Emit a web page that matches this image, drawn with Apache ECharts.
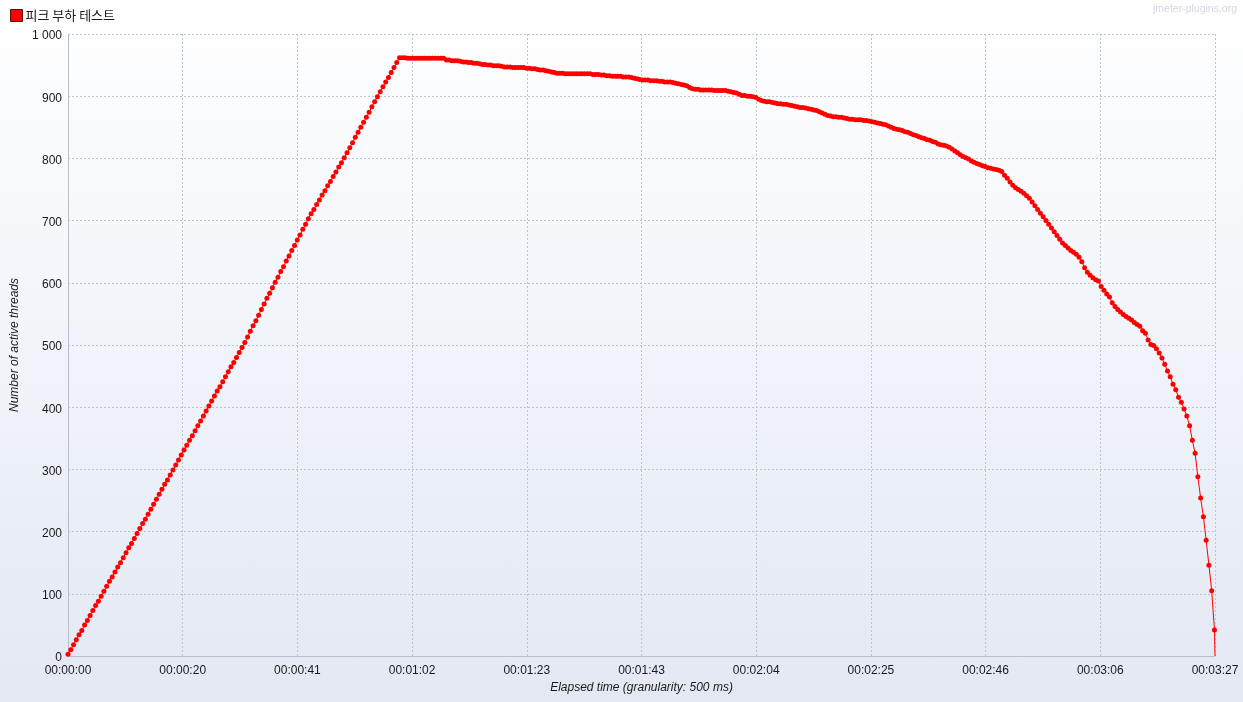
<!DOCTYPE html>
<html>
<head>
<meta charset="utf-8">
<script src="https://cdn.jsdelivr.net/npm/echarts@6/dist/echarts.min.js"></script>
<style>
  html, body { margin: 0; padding: 0; width: 1243px; height: 702px; overflow: hidden; }
  body { background: linear-gradient(to bottom, #ffffff 0%, #f3f6fb 40%, #e3e8f3 100%); }
  #chart { width: 1243px; height: 702px; }
</style>
</head>
<body>
<div id="chart"></div>
<script>
// ---- Data ----
const seriesName = '피크 부하 테스트';
const granularityMs = 500;          // sample spacing
const lastSampleMs = 207600;        // final (end-of-test) sample time
const axisMaxMs = 207600;
const axisStepMs = 20760;
const yTicks = { min: 0, max: 1000, step: 100 };

// active threads, one value per 500 ms sample (last value = end of test)
const activeThreads = [
  3,10,18,26,34,41,50,57,65,73,
  81,88,96,104,112,120,127,135,143,150,
  158,166,174,181,189,197,205,213,220,228,
  236,244,252,260,268,276,283,291,299,307,
  315,323,331,339,347,354,362,370,378,386,
  394,402,410,418,426,433,441,449,457,465,
  472,480,488,496,504,513,522,531,539,548,
  557,566,575,583,592,601,609,618,626,635,
  643,652,660,669,677,686,694,703,711,718,
  726,733,741,748,756,763,771,778,786,793,
  801,809,817,825,834,842,850,858,866,874,
  883,891,899,907,915,923,930,938,946,954,
  962,962,962,961,961,961,961,961,961,961,
  961,961,961,961,961,961,961,958,958,957,
  957,957,956,955,955,954,954,953,953,952,
  951,951,950,950,949,949,949,948,947,947,
  947,946,946,946,946,946,945,945,944,944,
  943,942,942,941,940,939,938,937,937,937,
  936,936,936,936,936,936,936,936,936,936,
  935,935,935,934,934,933,933,932,932,932,
  932,931,931,931,930,929,928,927,926,926,
  926,925,925,925,924,924,923,923,923,922,
  921,920,919,918,917,914,912,911,911,910,
  910,910,910,910,909,909,909,909,909,908,
  907,906,905,903,901,901,900,900,899,898,
  895,893,892,891,891,890,889,888,888,887,
  887,886,885,884,883,882,882,881,880,879,
  878,877,875,873,871,869,868,867,867,866,
  866,865,864,863,863,862,862,862,861,861,
  860,859,858,857,856,855,854,852,850,848,
  847,846,845,843,842,840,838,837,835,833,
  832,830,829,827,826,823,822,821,820,818,
  815,812,809,806,803,801,799,796,794,792,
  790,788,787,785,784,783,782,781,779,773,
  768,762,757,753,750,747,744,740,736,730,
  724,718,712,706,700,694,688,682,676,670,
  664,660,656,652,649,646,641,634,624,617,
  612,608,605,603,594,588,582,577,568,562,
  557,553,549,546,543,540,536,533,530,523,
  519,508,501,499,494,487,479,469,458,449,
  437,428,416,408,397,386,370,347,326,288,
  254,224,186,146,105,42,
  0
];

const sampleTimesMs = activeThreads.map((_, i) =>
  i < activeThreads.length - 1 ? i * granularityMs : lastSampleMs);

// ---- Chart ----
function pad2(n) { return (n < 10 ? '0' : '') + n; }
function fmtTime(ms) {
  const s = Math.floor(ms / 1000 + 1e-6);
  return pad2(Math.floor(s / 3600)) + ':' + pad2(Math.floor((s % 3600) / 60)) + ':' + pad2(s % 60);
}
function fmtThreads(v) {
  return '{t|' + String(v).replace(/\B(?=(\d{3})+(?!\d))/g, ' ') + '}';
}

const seriesData = activeThreads.map((v, i) => {
  if (i === activeThreads.length - 1) {
    return { value: [sampleTimesMs[i], v], symbolSize: 0 };
  }
  return [sampleTimesMs[i], v];
});

const chart = echarts.init(document.getElementById('chart'), null, { renderer: 'canvas' });
const FONT = '"Liberation Sans", Arial, sans-serif';
const gridColor = '#c0c4cb';
const axisColor = '#b8bdc7';
const textColor = '#1a1a1a';

chart.setOption({
  animation: false,
  backgroundColor: 'transparent',
  textStyle: { fontFamily: FONT },
  legend: {
    left: 10, top: 9,
    padding: 0,
    itemWidth: 12, itemHeight: 12,
    icon: 'rect',
    selectedMode: false,
    textStyle: { fontFamily: '"Noto Sans CJK KR", sans-serif', fontSize: 13, color: textColor, padding: [0, 0, 0, -2] },
    data: [{ name: seriesName, itemStyle: { color: '#ff0000', borderColor: '#5a1010', borderWidth: 1 } }]
  },
  graphic: [{
    type: 'text', right: 6, top: 4,
    style: { text: 'jmeter-plugins.org', fill: '#d4d8df', font: '10.5px "Liberation Sans", Arial, sans-serif' }
  }],
  grid: { left: 68, right: 28, top: 34, bottom: 46, containLabel: false },
  xAxis: {
    type: 'value',
    min: 0, max: axisMaxMs, interval: axisStepMs,
    name: 'Elapsed time (granularity: 500 ms)',
    nameLocation: 'middle', nameGap: 24,
    nameTextStyle: { fontStyle: 'italic', fontSize: 12, color: textColor, fontFamily: FONT },
    axisLine: { show: true, lineStyle: { color: axisColor, width: 1 } },
    axisTick: { show: false },
    axisLabel: { formatter: fmtTime, color: textColor, fontSize: 12, margin: 9, fontFamily: FONT, showMinLabel: true, showMaxLabel: true },
    splitLine: { show: true, lineStyle: { color: gridColor, width: 1, type: [2, 2] } }
  },
  yAxis: {
    type: 'value',
    min: yTicks.min, max: yTicks.max, interval: yTicks.step,
    name: 'Number of active threads',
    nameLocation: 'middle', nameGap: 44,
    nameTextStyle: { fontStyle: 'italic', fontSize: 12, color: textColor, fontFamily: FONT },
    axisLine: { show: true, lineStyle: { color: axisColor, width: 1 } },
    axisTick: { show: false },
    axisLabel: {
      formatter: fmtThreads, margin: 6,
      rich: { t: { color: textColor, fontSize: 12, fontFamily: FONT, padding: [4, 0, 0, 0] } }
    },
    splitLine: { show: true, lineStyle: { color: gridColor, width: 1, type: [2, 2] } }
  },
  series: [{
    name: seriesName,
    type: 'line',
    data: seriesData,
    symbol: 'circle',
    symbolSize: 5,
    showAllSymbol: true,
    lineStyle: { color: '#ff0000', width: 1 },
    itemStyle: { color: '#ff0000' },
    emphasis: { disabled: true },
    silent: true
  }]
});
</script>
</body>
</html>
